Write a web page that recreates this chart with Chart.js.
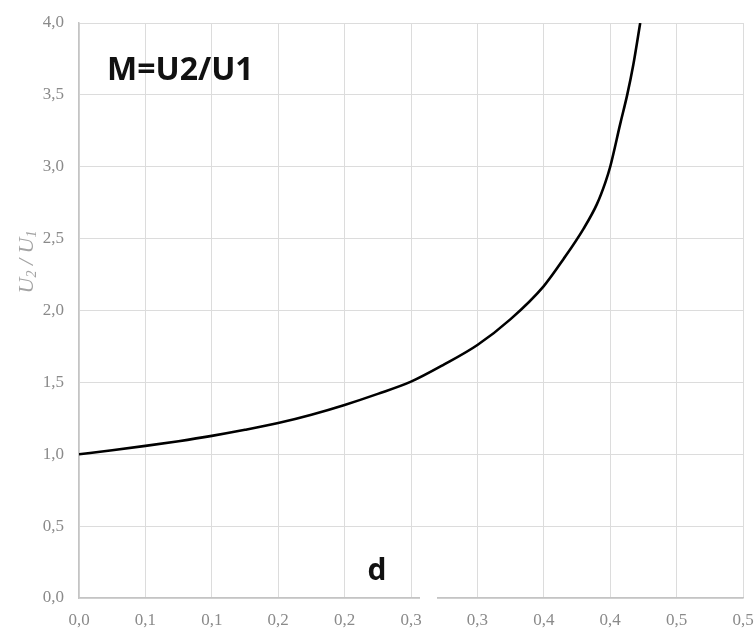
<!DOCTYPE html>
<html>
<head>
<meta charset="utf-8">
<script src="https://cdn.jsdelivr.net/npm/chart.js@4/dist/chart.umd.min.js"></script>
<style>
  html, body { margin: 0; padding: 0; background: #fff; }
  #wrap { width: 754px; height: 628px; position: relative; }
</style>
</head>
<body>
<div id="wrap"><canvas id="ratioChart"></canvas></div>
<script>
// values
const dValues = [0, 0.025, 0.05, 0.075, 0.1, 0.125, 0.15, 0.175, 0.2, 0.225, 0.25, 0.275, 0.3,
                 0.325, 0.35, 0.365, 0.38, 0.39, 0.3963, 0.4, 0.4076, 0.4128, 0.4174, 0.4226];
const mValues = [1.0, 1.028, 1.058, 1.091, 1.128, 1.17, 1.217, 1.275, 1.343, 1.42, 1.505, 1.625, 1.76,
                 1.94, 2.17, 2.36, 2.57, 2.74, 2.89, 3.0, 3.30, 3.50, 3.71, 4.0];

// Excel-style rounded tick labels
const xTickLabels = ['0,0', '0,1', '0,1', '0,2', '0,2', '0,3', '0,3', '0,4', '0,4', '0,5', '0,5'];
const yTickLabels = ['0,0', '0,5', '1,0', '1,5', '2,0', '2,5', '3,0', '3,5', '4,0'];

const TICK_GRAY = '#8a8a8a';
const GRID_GRAY = '#dcdcdc';
const AXIS_GRAY = '#c4c4c4';

// extra text inside the plot + rotated axis title
const notesPlugin = {
    id: 'notes',
    afterDraw(chart) {
        const ctx = chart.ctx;
        ctx.save();

        // small gap in the x axis line (text box edge in the original)
        ctx.fillStyle = '#fff';
        ctx.fillRect(420, 595, 17, 7);

        ctx.fillStyle = '#111';
        ctx.textBaseline = 'alphabetic';
        ctx.font = 'bold 32px "Open Sans"';
        ctx.textAlign = 'left';
        ctx.fillText('M=U2/U1', 107, 80);

        ctx.font = 'bold 30px "Open Sans"';
        ctx.textAlign = 'center';
        ctx.fillText('d', 377, 580);

        // y title: U2 / U1 with subscripts, read bottom to top
        const big = 'italic 22px "Liberation Serif"';
        const small = 'italic 14px "Liberation Serif"';
        const parts = [['U', big, 0], ['2', small, 5], [' / ', big, 0], ['U', big, 0], ['1', small, 5]];
        let total = 0;
        parts.forEach(p => { ctx.font = p[1]; total += ctx.measureText(p[0]).width; });
        ctx.translate(27, 262);
        ctx.rotate(-Math.PI / 2);
        ctx.fillStyle = '#a3a3a3';
        ctx.textAlign = 'left';
        ctx.textBaseline = 'middle';
        let x = -total / 2;
        parts.forEach(p => {
            ctx.font = p[1];
            ctx.fillText(p[0], x, p[2]);
            x += ctx.measureText(p[0]).width;
        });
        ctx.restore();
    }
};

const canvas = document.getElementById('ratioChart');
new Chart(canvas.getContext('2d'), {
    type: 'line',
    data: {
        datasets: [{
            data: dValues.map((d, i) => ({ x: d, y: mValues[i] })),
            borderColor: '#000',
            borderWidth: 2.6,
            pointRadius: 0,
            cubicInterpolationMode: 'monotone',
            fill: false
        }]
    },
    options: {
        responsive: true,
        maintainAspectRatio: false,
        animation: false,
        layout: { padding: { top: 23, right: 11, bottom: 0, left: 0 } },
        plugins: { legend: { display: false }, tooltip: { enabled: false } },
        scales: {
            x: {
                type: 'linear',
                min: 0, max: 0.5,
                ticks: {
                    stepSize: 0.05,
                    color: TICK_GRAY,
                    padding: 12,
                    maxRotation: 0,
                    autoSkip: false,
                    font: { family: '"Liberation Serif"', size: 17 },
                    callback: (v, i) => xTickLabels[i]
                },
                grid: { color: GRID_GRAY, drawTicks: false },
                border: { color: AXIS_GRAY, width: 1.5 },
                afterFit: s => { s.height = 30; s.paddingLeft = 0; s.paddingRight = 0; }
            },
            y: {
                min: 0, max: 4,
                ticks: {
                    stepSize: 0.5,
                    color: TICK_GRAY,
                    padding: 15,
                    font: { family: '"Liberation Serif"', size: 17 },
                    callback: (v, i) => yTickLabels[i]
                },
                grid: { color: GRID_GRAY, drawTicks: false },
                border: { color: AXIS_GRAY, width: 1.5 },
                afterFit: s => { s.width = 79; s.paddingTop = 0; s.paddingBottom = 0; }
            }
        }
    },
    plugins: [notesPlugin]
});
</script>
</body>
</html>
